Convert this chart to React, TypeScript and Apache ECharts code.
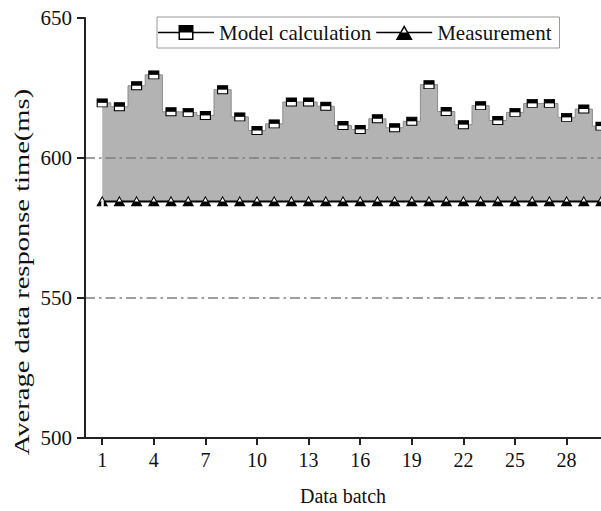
import React, { useEffect, useRef } from "react";
import * as echarts from "echarts";

const batches = Array.from({ length: 30 }, (_, i) => i + 1);
const modelValues = [
  619.7, 618.3, 625.8, 629.7, 616.5, 616.3, 615.2, 624.4, 614.7, 609.8,
  612.2, 620.0, 620.0, 618.5, 611.6, 610.2, 614.0, 610.8, 613.1, 626.2,
  616.6, 611.9, 618.7, 613.4, 616.3, 619.5, 619.5, 614.5, 617.5, 611.4,
];
const measuredValues = [
  584.5, 584.5, 584.5, 584.5, 584.5, 584.5, 584.5, 584.5, 584.5, 584.5,
  584.5, 584.5, 584.5, 584.5, 584.5, 584.5, 584.5, 584.5, 584.5, 584.5,
  584.5, 584.5, 584.5, 584.5, 584.5, 584.5, 584.5, 584.5, 584.5, 584.5,
];
const xTickValues = [1, 4, 7, 10, 13, 16, 19, 22, 25, 28];
const refLines = [550, 600];

const FONT = "'Liberation Serif', 'Times New Roman', serif";

const modelIcon =
  "path://M0 7.25H20.5V8.75H0Z M35.5 7.25H56V8.75H35.5Z M20.5 0.5H35.5V15.5H20.5Z M22 8V14H34V8Z";
const measIcon =
  "path://M0 7.25H24V8.75H0Z M32 7.25H56V8.75H32Z M28 0.5L36.5 15.5L19.5 15.5Z M28 3.4L21.9 14L34.1 14Z M23.75 8L32.25 8L36.5 15.5L19.5 15.5Z";
const lowerTri = "path://M2.5 0L7.5 0L10 5L0 5Z";

export default function App() {
  const ref = useRef<HTMLDivElement>(null);
  useEffect(() => {
    document.body.style.margin = "0";
    const chart = echarts.init(ref.current!, null, { renderer: "svg" });
    const pts = (vals: number[]) => batches.map((b, i) => [b, vals[i]]);
    chart.setOption({
      animation: false,
      grid: { left: 85, top: 18, width: 516, bottom: 71 },
      legend: {
        left: 157,
        top: 17,
        padding: [5, 8, 5, 1],
        borderColor: "#999",
        borderWidth: 1,
        backgroundColor: "#fff",
        itemGap: 5,
        itemWidth: 56,
        itemHeight: 16,
        selectedMode: false,
        z: 10,
        textStyle: { fontFamily: FONT, fontSize: 21, color: "#111" },
        itemStyle: { color: "#000", borderWidth: 0 },
        data: [
          { name: "Model calculation", icon: modelIcon, itemStyle: { color: "#000", borderWidth: 0 } },
          { name: "Measurement", icon: measIcon, itemStyle: { color: "#000", borderWidth: 0 } },
        ],
      },
      xAxis: {
        type: "value",
        min: 0,
        max: 30,
        z: 6,
        name: "Data batch",
        nameLocation: "middle",
        nameGap: 48,
        nameTextStyle: { fontFamily: FONT, fontSize: 20, color: "#111" },
        axisLine: { show: true, lineStyle: { color: "#222", width: 2 } },
        axisTick: { show: true, customValues: xTickValues, length: 7, lineStyle: { color: "#222", width: 2 } },
        axisLabel: { customValues: xTickValues, margin: 12, fontFamily: FONT, fontSize: 20, color: "#111" },
        splitLine: { show: false },
      },
      yAxis: {
        type: "value",
        min: 500,
        max: 650,
        interval: 50,
        z: 6,
        axisLine: { show: true, lineStyle: { color: "#222", width: 2 } },
        axisTick: { show: true, length: 8, lineStyle: { color: "#222", width: 2 } },
        axisLabel: { margin: 13, fontFamily: FONT, fontSize: 21, color: "#111" },
        splitLine: { show: false },
      },
      graphic: [
        {
          type: "text",
          x: 22,
          y: 272,
          rotation: Math.PI / 2,
          scaleX: 1.36,
          style: {
            text: "Average data response time(ms)",
            fontFamily: FONT,
            fontSize: 21,
            fill: "#111",
            align: "center",
            verticalAlign: "middle",
          },
        },
      ],
      series: [
        {
          name: "modelArea",
          type: "line",
          step: "middle",
          data: pts(modelValues),
          symbol: "none",
          lineStyle: { color: "#8c8c8c", width: 1 },
          areaStyle: { color: "#b3b3b3", opacity: 1, origin: "start" },
          silent: true,
          z: 1,
        },
        {
          name: "measCover",
          type: "line",
          data: pts(measuredValues),
          symbol: "none",
          lineStyle: { width: 0, opacity: 0 },
          areaStyle: { color: "#ffffff", opacity: 1, origin: "start" },
          silent: true,
          z: 1.5,
          markLine: {
            silent: true,
            symbol: "none",
            label: { show: false },
            lineStyle: { color: "#ffffff", width: 2.5, type: "solid" },
            data: [[{ coord: [batches[0], 500] }, { coord: [batches[0], measuredValues[0]] }]],
          },
        },
        {
          name: "Measurement",
          type: "line",
          data: pts(measuredValues),
          symbol: "triangle",
          symbolSize: [10, 9],
          showAllSymbol: true,
          lineStyle: { color: "#000", width: 2 },
          itemStyle: { color: "#fff", borderColor: "#000", borderWidth: 1 },
          z: 3,
          markLine: {
            silent: true,
            symbol: "none",
            label: { show: false },
            lineStyle: { color: "#7f7f7f", width: 1.5, type: [10, 4, 2.5, 4] },
            data: refLines.map((v) => ({ yAxis: v })),
          },
        },
        {
          name: "measLower",
          type: "line",
          data: pts(measuredValues),
          symbol: lowerTri,
          symbolSize: [10, 4.5],
          symbolOffset: [0, 2.25],
          showAllSymbol: true,
          lineStyle: { width: 0, opacity: 0 },
          itemStyle: { color: "#000" },
          z: 4,
        },
        {
          name: "Model calculation",
          type: "line",
          data: pts(modelValues),
          symbol: "rect",
          symbolSize: [10, 8],
          showAllSymbol: true,
          lineStyle: { width: 0, opacity: 0 },
          itemStyle: { color: "#fff", borderColor: "#000", borderWidth: 1 },
          z: 3,
        },
        {
          name: "modelUpper",
          type: "line",
          data: pts(modelValues),
          symbol: "rect",
          symbolSize: [10, 4],
          symbolOffset: [0, -2],
          showAllSymbol: true,
          lineStyle: { width: 0, opacity: 0 },
          itemStyle: { color: "#000" },
          z: 4,
        },
      ],
    });
    return () => chart.dispose();
  }, []);
  return <div ref={ref} style={{ width: 601, height: 511 }} />;
}
